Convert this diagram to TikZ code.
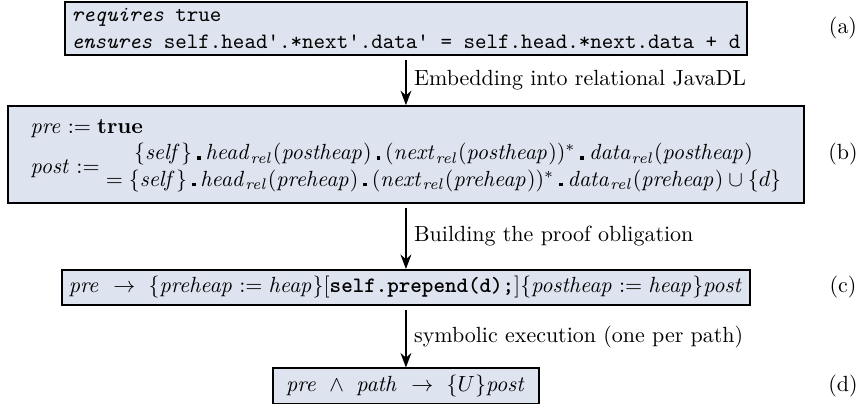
\documentclass[tikz,border=0pt]{standalone}
\usepackage{amsmath,amssymb,amsfonts}
\usepackage{xcolor}
\usepackage{tikz}
\usetikzlibrary{positioning,arrows.meta}

\definecolor{specfill}{RGB}{222,228,239}
\newcommand{\rdot}{\mathbin{\rule{1.7pt}{1.5pt}}}
\newcommand{\mi}[1]{\mathit{#1}}

\begin{document}
\begin{tikzpicture}[>=Stealth,
  spec/.style={draw,line width=0.8pt,fill=specfill,inner sep=3pt},
  flow/.style={->,line width=0.8pt,shorten <=2pt}]
\useasboundingbox (0,0) rectangle (13.73,-6.53);
% the four stages
\node[spec,align=left] (jml) at (6.496,-0.456)
  {\texttt{\textit{requires} true}\\
   \texttt{\textit{ensures} self.head'.*next'.data' = self.head.*next.data + d}};
\node[spec,minimum width=12.74cm,minimum height=1.55cm] (rel) at (6.496,-2.472)
  {$\begin{array}{@{}l@{}}
   \mi{pre} := \mathbf{true}\\
   \mi{post} := \begin{array}{@{}c@{}}
     \{\mi{self}\}\rdot\mi{head}_{\mi{rel}}(\mi{postheap})\rdot(\mi{next}_{\mi{rel}}(\mi{postheap}))^*\rdot\mi{data}_{\mi{rel}}(\mi{postheap})\\
     =\{\mi{self}\}\rdot\mi{head}_{\mi{rel}}(\mi{preheap})\rdot(\mi{next}_{\mi{rel}}(\mi{preheap}))^*\rdot\mi{data}_{\mi{rel}}(\mi{preheap})\cup\{d\}
   \end{array}
   \end{array}$};
\node[spec] (po) at (6.496,-4.6)
  {$\mi{pre}\ \rightarrow\ \{\mi{preheap}:=\mi{heap}\}[\texttt{\textbf{self.prepend(d);}}]\{\mi{postheap}:=\mi{heap}\}\mi{post}$};
\node[spec,minimum width=4.26cm] (se) at (6.496,-6.176)
  {$\mi{pre}\ \wedge\ \mi{path}\ \rightarrow\ \{U\}\mi{post}$};
% tags
\node (taga) at (13.49,-0.456) {(a)};
\node (tagb) at (13.49,-2.472) {(b)};
\node (tagc) at (13.49,-4.6) {(c)};
\node (tagd) at (13.49,-6.176) {(d)};
% steps between them
\draw[flow] (jml) -- (rel) node[midway,right]{Embedding into relational JavaDL};
\draw[flow] (rel) -- (po) node[midway,right]{Building the proof obligation};
\draw[flow] (po) -- (se) node[midway,right]{symbolic execution (one per path)};
\end{tikzpicture}
\end{document}
